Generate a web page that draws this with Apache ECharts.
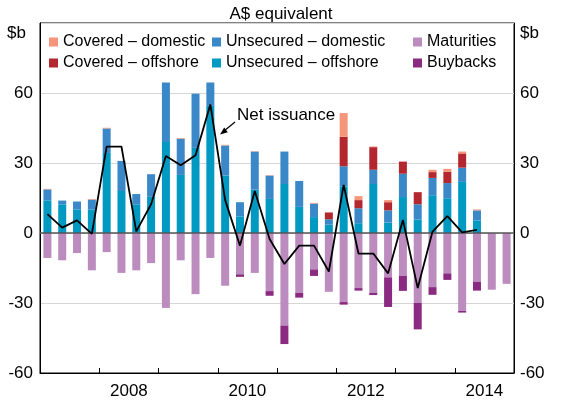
<!DOCTYPE html>
<html>
<head>
<meta charset="utf-8">
<script src="https://cdn.jsdelivr.net/npm/echarts@6/dist/echarts.min.js"></script>
<style>
  html, body { margin: 0; padding: 0; background: #fff; }
  #chart { width: 562px; height: 400px; }
</style>
</head>
<body>
<div id="chart"></div>
<script>
// quarters 2007 Q1 .. 2014 Q4
const quarters = []
for (let y = 2007; y <= 2014; y++) {
  for (let q = 1; q <= 4; q++) quarters.push(y + ' Q' + q)
}
const yearLabels = ['2008', '2010', '2012', '2014']

// $b
const unsecuredOffshore = [14.0, 12.3, 10.1, 10.1, 34.3, 18.0, 12.3, 15.5, 39.0, 24.9, 36.5, 54.5, 24.6, 7.1, 18.6, 14.6, 21.0, 11.2, 6.8, 3.6, 20.0, 4.2, 21.0, 4.5, 15.4, 5.8, 16.2, 14.9, 21.9, 5.4, 0, 0]
const unsecuredDomestic = [4.7, 1.6, 3.4, 4.2, 10.5, 12.9, 4.4, 9.7, 25.5, 15.5, 23.2, 10.0, 12.9, 6.1, 16.3, 10.0, 13.9, 11.1, 5.8, 2.3, 8.6, 6.4, 6.1, 5.2, 10.0, 6.5, 7.4, 6.5, 6.1, 4.3, 0, 0]
const coveredOffshore = [0, 0, 0, 0, 0, 0, 0, 0, 0, 0, 0, 0, 0, 0, 0, 0, 0, 0, 0, 2.9, 12.6, 3.5, 9.7, 3.5, 5.2, 5.2, 2.5, 4.8, 6.1, 0, 0, 0]
const coveredDomestic = [0.2, 0, 0, 0.3, 0.3, 0, 0, 0, 0, 0.3, 0, 0, 0.3, 0, 0.2, 0.2, 0, 0, 0.3, 0, 10.2, 1.7, 0.3, 0.9, 0, 0, 1.0, 1.3, 0.8, 0.4, 0, 0]
const maturities = [-10.7, -11.7, -8.6, -16.0, -8.2, -17.1, -16.0, -12.9, -32.1, -11.7, -26.2, -10.7, -22.6, -17.7, -17.1, -24.9, -39.7, -25.7, -15.6, -25.2, -29.6, -23.6, -25.6, -19.0, -18.4, -30.0, -23.2, -17.3, -33.4, -20.9, -24.3, -21.8]
const buybacks = [0, 0, 0, 0, 0, 0, 0, 0, 0, 0, 0, 0, 0, -1.1, 0, -2.0, -7.9, -2.0, -2.8, 0, -1.1, -1.1, -1.0, -12.7, -6.4, -11.3, -3.3, -2.8, -0.7, -3.8, 0, 0]
const netIssuance = [8.1, 2.3, 5.4, -0.4, 37.0, 37.0, 0.7, 12.3, 33.0, 29.0, 33.3, 55.1, 14.1, -5.4, 18.0, -2.6, -13.3, -5.4, -5.4, -16.5, 20.6, -8.8, -8.8, -17.3, 5.6, -23.6, 0.6, 7.2, 0.3, 1.3, null, null]

const font = 'Arial, "Liberation Sans", sans-serif'
const barW = 8

const bar = (name, data, color) => ({
  name, type: 'bar', stack: 'all', data, barWidth: barW,
  itemStyle: { color }, emphasis: { disabled: true }
})

const legendBase = {
  orient: 'vertical', top: 34, padding: 0, itemWidth: 9, itemHeight: 9, itemGap: 5,
  icon: 'rect', selectedMode: false,
  textStyle: { fontFamily: font, fontSize: 16, color: '#000' }
}

const option = {
  animation: false,
  title: {
    text: 'A$ equivalent', left: 'center', top: 1,
    textStyle: { fontFamily: font, fontSize: 17, fontWeight: 'normal', color: '#000' }
  },
  legend: [
    Object.assign({ left: 49, data: ['Covered – domestic', 'Covered – offshore'] }, legendBase),
    Object.assign({ left: 212, data: ['Unsecured – domestic', 'Unsecured – offshore'] }, legendBase),
    Object.assign({ left: 413, data: ['Maturities', 'Buybacks'] }, legendBase)
  ],
  grid: {
    left: 40, right: 48, top: 23, bottom: 27,
    show: true, borderColor: '#000', borderWidth: 1
  },
  xAxis: [
    {
      type: 'category', data: quarters, boundaryGap: true,
      axisLine: { onZero: false, lineStyle: { color: '#000', width: 1 } },
      axisTick: { show: false },
      axisLabel: { show: false }
    },
    {
      // year labels centred in each even year
      type: 'value', min: 2007, max: 2015, interval: 0.5, position: 'bottom',
      axisLine: { show: false, onZero: false }, axisTick: { show: false }, splitLine: { show: false },
      axisLabel: {
        fontFamily: font, fontSize: 17, color: '#000', margin: 10,
        formatter: v => {
          const s = String(v - 0.5)
          return yearLabels.includes(s) ? s : ''
        }
      }
    },
    {
      // year boundary ticks
      type: 'value', min: 2007, max: 2015, interval: 1, position: 'bottom',
      axisLine: { show: false, onZero: false }, splitLine: { show: false },
      axisLabel: { show: false },
      axisTick: { show: true, inside: true, length: 5, lineStyle: { color: '#000', width: 1 } }
    }
  ],
  yAxis: [
    {
      type: 'value', min: -60, max: 90, interval: 30, position: 'left',
      axisLine: { show: true, lineStyle: { color: '#000' } },
      axisTick: { show: false },
      axisLabel: {
        fontFamily: font, fontSize: 17, color: '#000', margin: 7,
        formatter: v => (v === 90 ? '' : v)
      },
      splitLine: { lineStyle: { color: '#d6d6d6', width: 1 } }
    },
    {
      type: 'value', min: -60, max: 90, interval: 30, position: 'right',
      axisLine: { show: true, lineStyle: { color: '#000' } },
      axisTick: { show: false },
      axisLabel: {
        fontFamily: font, fontSize: 17, color: '#000', margin: 6,
        formatter: v => (v === 90 ? '' : v)
      },
      splitLine: { show: false }
    }
  ],
  series: [
    bar('Unsecured – offshore', unsecuredOffshore, '#0099c2'),
    bar('Unsecured – domestic', unsecuredDomestic, '#3b88c9'),
    bar('Covered – offshore', coveredOffshore, '#b3282f'),
    bar('Covered – domestic', coveredDomestic, '#f5967a'),
    bar('Maturities', maturities, '#bd8cbf'),
    bar('Buybacks', buybacks, '#8a2a80'),
    {
      name: 'Net issuance', type: 'line', data: netIssuance, z: 5,
      symbol: 'none', lineStyle: { color: '#000', width: 1.8 },
      emphasis: { disabled: true },
      markLine: {
        silent: true, symbol: 'none', label: { show: false },
        lineStyle: { color: '#555', width: 1.5, type: 'solid' },
        data: [{ yAxis: 0 }]
      }
    }
  ],
  graphic: [
    { type: 'text', left: 7, top: 25, style: { text: '$b', font: '17px ' + font, fill: '#000' } },
    { type: 'text', left: 520, top: 25, style: { text: '$b', font: '17px ' + font, fill: '#000' } },
    { type: 'text', left: 237, top: 107, style: { text: 'Net issuance', font: '17px ' + font, fill: '#000' } },
    { type: 'line', shape: { x1: 235, y1: 122, x2: 224, y2: 131 }, style: { stroke: '#000', lineWidth: 1.2 } },
    { type: 'polygon', shape: { points: [[220, 134.5], [227.8, 132.2], [224.2, 127.6]] }, style: { fill: '#000' } }
  ]
}

const myChart = echarts.init(document.getElementById('chart'))
myChart.setOption(option)
</script>
</body>
</html>
